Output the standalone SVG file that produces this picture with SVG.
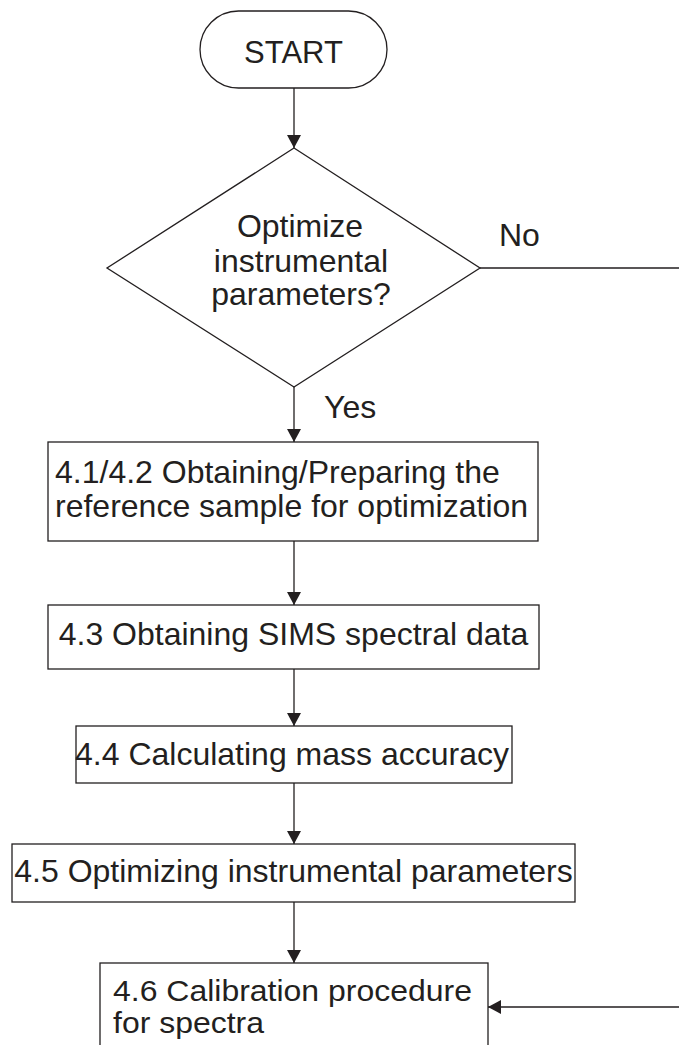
<svg xmlns="http://www.w3.org/2000/svg" width="679" height="1045" viewBox="0 0 679 1045">
  <style>
    .shape { fill: #ffffff; stroke: #231f20; stroke-width: 1.3; }
    .conn { fill: none; stroke: #231f20; stroke-width: 1.3; }
    .t { font-family: "Liberation Sans", Arial, sans-serif; font-size: 32px; fill: #231f20; }
    .c { text-anchor: middle; }
    .s { font-size: 29px; }
  </style>
  <defs>
    <marker id="arrow" viewBox="0 0 13 14" refX="13" refY="7" markerWidth="13" markerHeight="14" markerUnits="userSpaceOnUse" orient="auto">
      <path d="M0,0 L13,7 L0,14 Z" fill="#231f20"/>
    </marker>
  </defs>
  <rect width="679" height="1045" fill="#ffffff"/>

  <g id="connectors">
    <line class="conn" x1="294" y1="88" x2="294" y2="148" marker-end="url(#arrow)"/>
    <line class="conn" x1="294" y1="387" x2="294" y2="442" marker-end="url(#arrow)"/>
    <line class="conn" x1="294" y1="541" x2="294" y2="605" marker-end="url(#arrow)"/>
    <line class="conn" x1="294" y1="669" x2="294" y2="726" marker-end="url(#arrow)"/>
    <line class="conn" x1="294" y1="783" x2="294" y2="844" marker-end="url(#arrow)"/>
    <line class="conn" x1="294" y1="902" x2="294" y2="963" marker-end="url(#arrow)"/>
    <path class="conn" d="M480,268 H682 V1007 H488" marker-end="url(#arrow)"/>
    <text class="t" x="499" y="246">No</text>
    <text class="t" x="324" y="418">Yes</text>
  </g>

  <g id="start">
    <rect class="shape" x="200" y="11" width="187" height="77" rx="38.5" ry="38.5"/>
    <text class="t c" x="293.5" y="63" style="font-size:31px">START</text>
  </g>

  <g id="decision">
    <polygon class="shape" points="294,148 480,268 294,387 107,268"/>
    <text class="t c" x="300" y="237">Optimize</text>
    <text class="t c" x="301" y="272">instrumental</text>
    <text class="t c" x="301" y="305">parameters?</text>
  </g>

  <g id="step-4-1">
    <rect class="shape" x="48" y="442" width="490" height="99"/>
    <text class="t" x="55" y="483">4.1/4.2 Obtaining/Preparing the</text>
    <text class="t" x="55" y="517">reference sample for optimization</text>
  </g>

  <g id="step-4-3">
    <rect class="shape" x="48" y="605" width="491" height="64"/>
    <text class="t c" x="293.5" y="645">4.3 Obtaining SIMS spectral data</text>
  </g>

  <g id="step-4-4">
    <rect class="shape" x="76" y="726" width="436" height="57"/>
    <text class="t c" x="292" y="765">4.4 Calculating mass accuracy</text>
  </g>

  <g id="step-4-5">
    <rect class="shape" x="12" y="844" width="563" height="58"/>
    <text class="t c" x="293.5" y="882">4.5 Optimizing instrumental parameters</text>
  </g>

  <g id="step-4-6">
    <rect class="shape" x="100" y="963" width="388" height="100"/>
    <text class="t s" x="113" y="1001" textLength="359" lengthAdjust="spacingAndGlyphs">4.6 Calibration procedure</text>
    <text class="t s" x="113" y="1033" textLength="151" lengthAdjust="spacingAndGlyphs">for spectra</text>
  </g>
</svg>
